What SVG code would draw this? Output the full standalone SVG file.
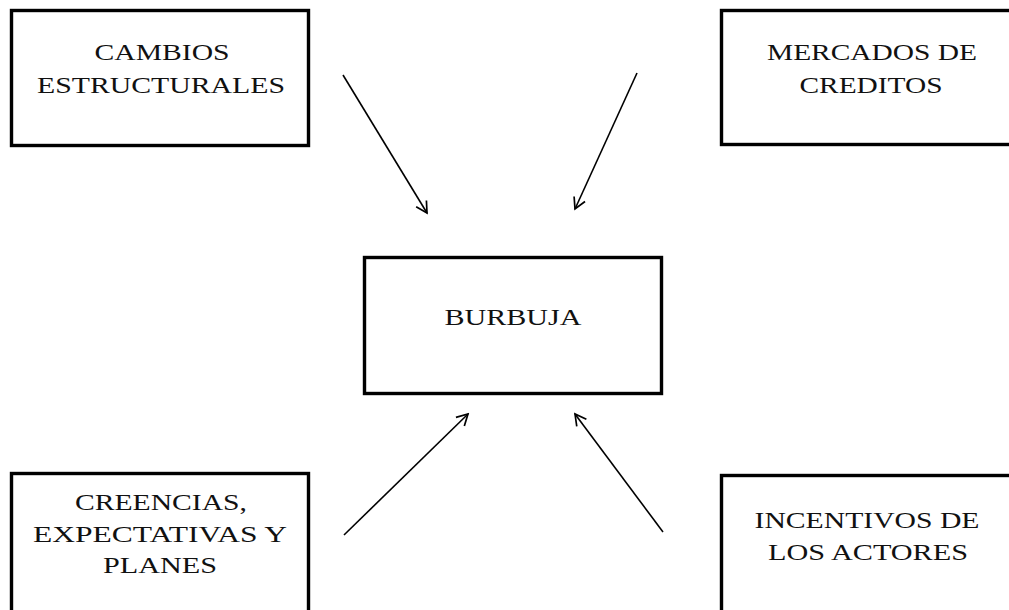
<svg xmlns="http://www.w3.org/2000/svg" width="1009" height="610" viewBox="0 0 1009 610">
<style>
.box{fill:#fff;stroke:#000;stroke-width:3.4}
.t{font-family:"Liberation Serif","Times New Roman",serif;font-size:24px;fill:#111;text-anchor:middle}
.c{stroke:#000;stroke-width:1.6;fill:none;marker-end:url(#ah)}
</style>
<defs>
<marker id="ah" markerUnits="userSpaceOnUse" markerWidth="16" markerHeight="16" viewBox="0 0 16 16" refX="14" refY="8" orient="auto">
<path d="M3,2 L14,8 L3,14" fill="none" stroke="#000" stroke-width="1.7"/>
</marker>
</defs>
<rect width="1009" height="610" fill="#fff"/>
<g id="n1">
<rect class="box" x="11.5" y="10.5" width="297" height="135"/>
<text class="t" x="162" y="60" textLength="135" lengthAdjust="spacingAndGlyphs">CAMBIOS</text>
<text class="t" x="161" y="93" textLength="248" lengthAdjust="spacingAndGlyphs">ESTRUCTURALES</text>
</g>
<g id="n2">
<rect class="box" x="721.5" y="10.5" width="297" height="134"/>
<text class="t" x="872" y="60" textLength="210" lengthAdjust="spacingAndGlyphs">MERCADOS DE</text>
<text class="t" x="871" y="93" textLength="143" lengthAdjust="spacingAndGlyphs">CREDITOS</text>
</g>
<g id="n3">
<rect class="box" x="364.5" y="257.5" width="297" height="136"/>
<text class="t" x="513" y="325" textLength="137" lengthAdjust="spacingAndGlyphs">BURBUJA</text>
</g>
<g id="n4">
<rect class="box" x="11.5" y="473.5" width="297" height="150"/>
<text class="t" x="161" y="510" textLength="172" lengthAdjust="spacingAndGlyphs">CREENCIAS,</text>
<text class="t" x="160" y="542" textLength="254" lengthAdjust="spacingAndGlyphs">EXPECTATIVAS Y</text>
<text class="t" x="160" y="573" textLength="114" lengthAdjust="spacingAndGlyphs">PLANES</text>
</g>
<g id="n5">
<rect class="box" x="721.5" y="475.5" width="297" height="150"/>
<text class="t" x="867" y="528" textLength="225" lengthAdjust="spacingAndGlyphs">INCENTIVOS DE</text>
<text class="t" x="868" y="560" textLength="200" lengthAdjust="spacingAndGlyphs">LOS ACTORES</text>
</g>
<g id="connectors">
<line class="c" x1="343" y1="75" x2="427" y2="213"/>
<line class="c" x1="637" y1="73" x2="575" y2="209"/>
<line class="c" x1="344" y1="535" x2="468" y2="414"/>
<line class="c" x1="663" y1="532" x2="575" y2="414"/>
</g>
</svg>
